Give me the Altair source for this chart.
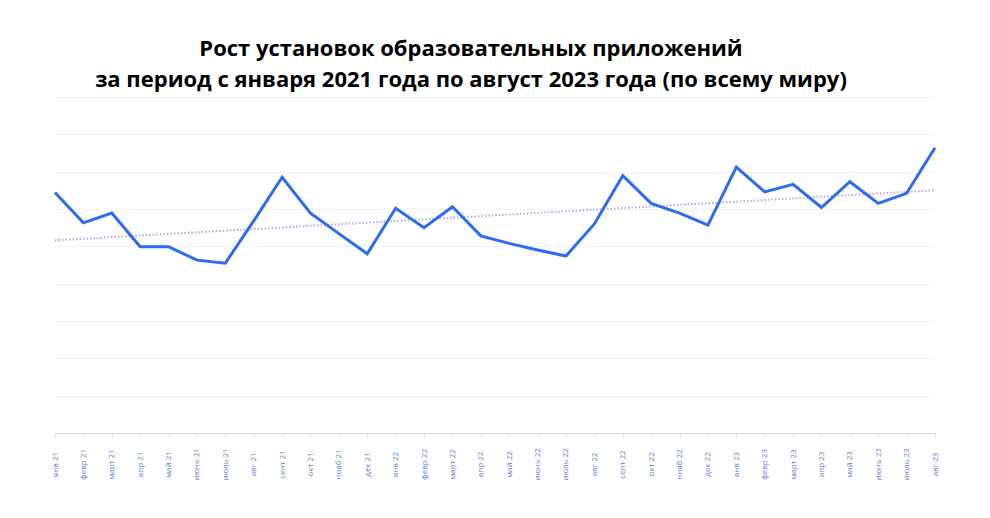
import altair as alt
import pandas as pd

months = ["янв 21", "февр 21", "март 21", "апр 21", "май 21", "июнь 21", "июль 21", "авг 21",
          "сент 21", "окт 21", "нояб 21", "дек 21", "янв 22", "февр 22", "март 22", "апр 22",
          "май 22", "июнь 22", "июль 22", "авг 22", "сент 22", "окт 22", "нояб 22", "дек 22",
          "янв 23", "февр 23", "март 23", "апр 23", "май 23", "июнь 23", "июль 23", "авг 23"]
installs = [6.44, 5.63, 5.89, 4.99, 4.99, 4.63, 4.55, 5.68,
            6.85, 5.89, 5.34, 4.80, 6.02, 5.50, 6.06, 5.28,
            5.08, 4.90, 4.74, 5.60, 6.89, 6.15, 5.89, 5.57,
            7.12, 6.46, 6.66, 6.04, 6.73, 6.15, 6.42, 7.64]

title_lines = ["Рост установок образовательных приложений",
               "за период с января 2021 года по август 2023 года (по всему миру)"]

df = pd.DataFrame({"idx": list(range(len(months))), "month": months, "value": installs})
labels_js = "[" + ",".join("'" + m + "'" for m in months) + "]"

x = alt.X("idx:Q",
          scale=alt.Scale(domain=[0, len(months) - 1], nice=False, zero=False),
          axis=alt.Axis(values=list(range(len(months))),
                        labelExpr=labels_js + "[datum.value]",
                        labelAngle=270, labelAlign="center", labelBaseline="middle",
                        labelPadding=27, tickSize=4, grid=False, title=None,
                        domainColor="#d9d9d9", tickColor="#d9d9d9",
                        labelFontSize=8, labelColor="#5b80d6", labelFont="Open Sans",
                        labelOverlap=False))
y = alt.Y("value:Q",
          scale=alt.Scale(domain=[0, 9], nice=False),
          axis=alt.Axis(values=list(range(10)), labels=False, ticks=False, domain=False,
                        title=None, gridColor="#d4d4d4", gridDash=[1, 3], gridWidth=1.2))

base = alt.Chart(df)
trend = base.transform_regression("idx", "value").mark_line(
    color="#b7a9dc", strokeDash=[1.5, 2], strokeWidth=2).encode(x=x, y=y)
line = base.mark_line(color="#2b6cf0", strokeWidth=3).encode(x=x, y=y)

chart = alt.layer(trend, line).properties(
    width=880, height=336,
    autosize=alt.AutoSizeParams(type="none"),
    padding={"left": 47, "top": 89, "right": 20, "bottom": 60},
    title=alt.TitleParams(text=title_lines, fontSize=22, font="Open Sans",
                          fontWeight="bold", color="black", anchor="middle",
                          dx=-24, offset=5, lineHeight=31),
).configure_view(stroke=None)

chart.save("out.html", embed_options={"renderer": "svg", "actions": False})
